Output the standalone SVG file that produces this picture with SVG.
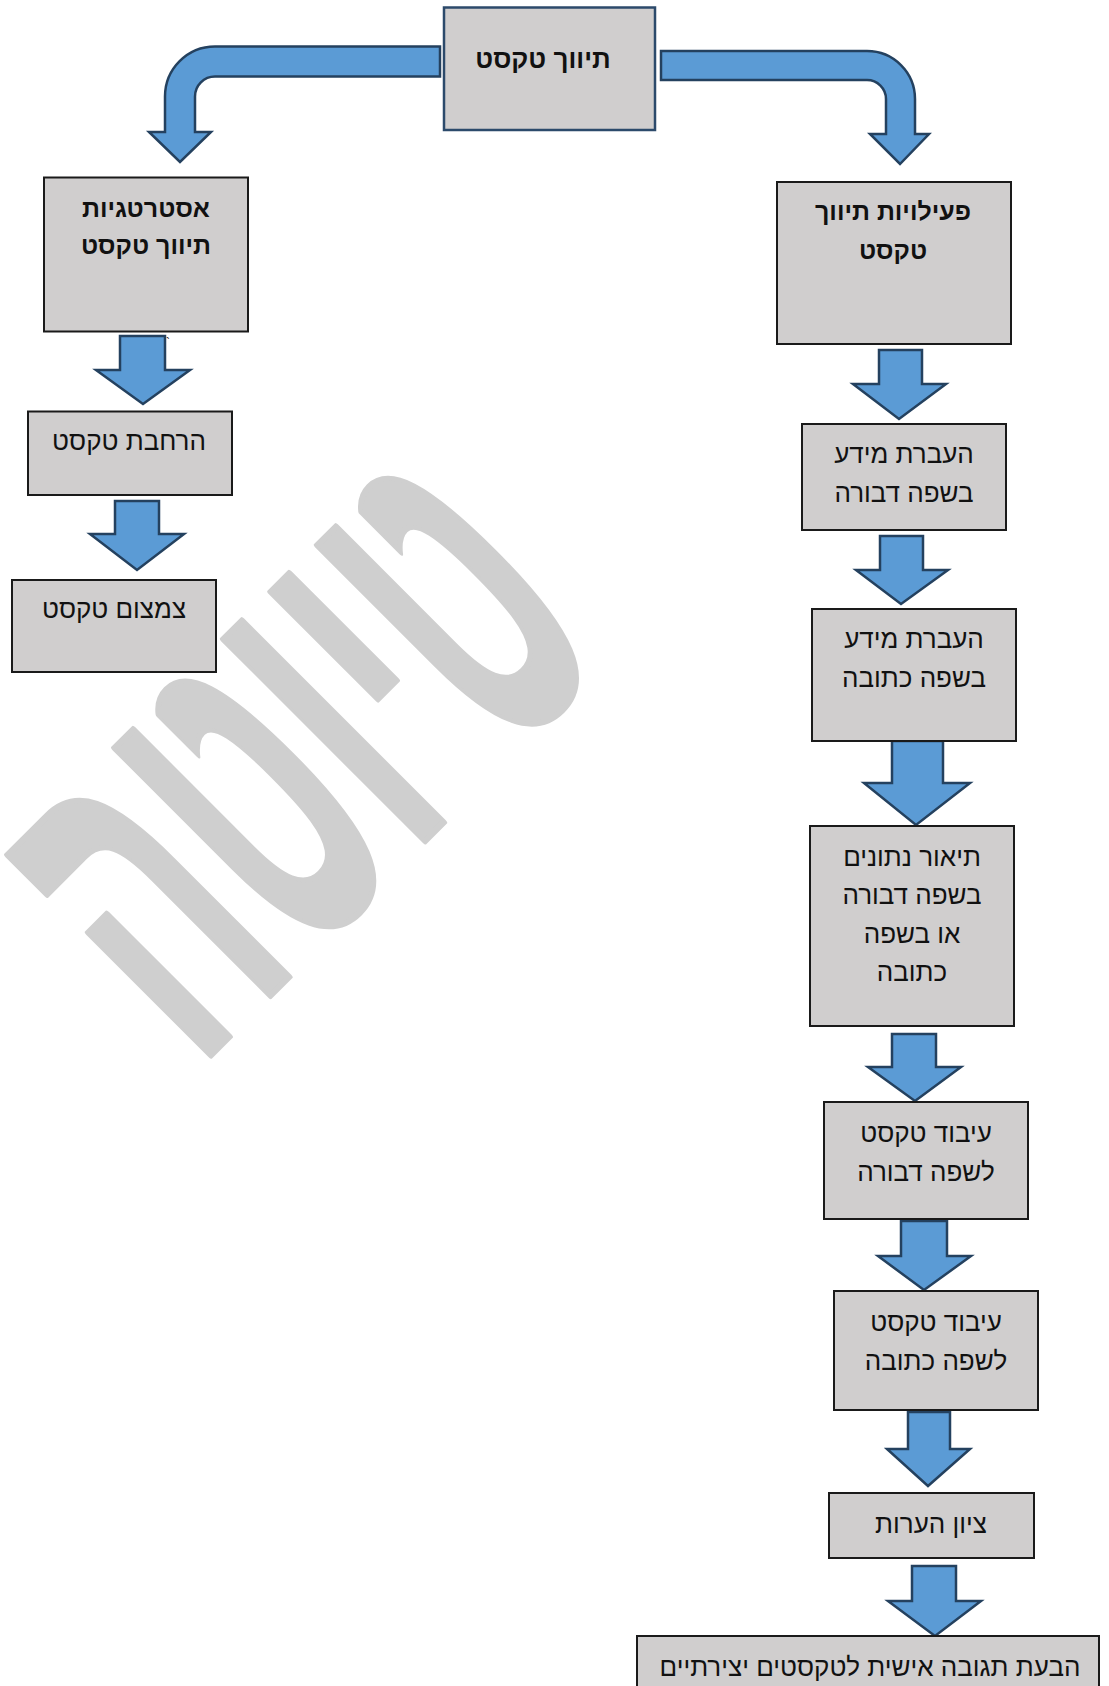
<svg xmlns="http://www.w3.org/2000/svg" width="1109" height="1686" viewBox="0 0 1109 1686">
<style>
.box{fill:#d0cece;stroke:#1a1a1a;stroke-width:2}
.topbox{fill:#d0cece;stroke:#2c4a6b;stroke-width:2.5}
.arr{fill:#5b9bd5;stroke:#24415f;stroke-width:2.5;stroke-linejoin:miter}
.t{font-family:"Liberation Sans","DejaVu Sans",sans-serif;font-size:26px;fill:#111;text-anchor:middle}
.b{font-family:"Liberation Sans","DejaVu Sans",sans-serif;font-size:25px;font-weight:bold;fill:#111;text-anchor:middle}
.wm{font-family:"Liberation Sans","DejaVu Sans",sans-serif;font-size:222px;font-weight:bold;fill:#cfcfcf;stroke:#cfcfcf;stroke-width:3;stroke-linejoin:round;text-anchor:middle}
</style>
<rect width="1109" height="1686" fill="#ffffff"/>
<g id="watermark">
<text class="wm" transform="translate(405,861) rotate(-45) scale(1,2.12)">טיוטה</text>
</g>
<g id="connectors">
<path class="arr" d="M440,46.5 L215,46.5 A50,50 0 0 0 165,96.5 L165,132 L149,132 L180,162 L211,132 L195,132 L195,96.5 A20,20 0 0 1 215,76.5 L440,76.5 Z"/>
<path class="arr" d="M661,51 L867,51 A48,48 0 0 1 915,99 L915,134 L929,134 L900,164 L870,134 L886,134 L886,99 A19,19 0 0 0 867,80 L661,80 Z"/>
<path class="arr" d="M120,336 L165,336 L165,370 L190,370 L143,404 L96,370 L120,370 Z"/>
<path class="arr" d="M115,501 L159,501 L159,534 L184,534 L137,570 L90,534 L115,534 Z"/>
<path class="arr" d="M879,350 L922,350 L922,384 L946,384 L899,419 L853,384 L879,384 Z"/>
<path class="arr" d="M880,536 L923,536 L923,570 L948,570 L901,604 L856,570 L880,570 Z"/>
<path class="arr" d="M892,741 L943,741 L943,783 L970,783 L916,825 L864,783 L892,783 Z"/>
<path class="arr" d="M892,1034 L936,1034 L936,1067 L961,1067 L915,1101 L868,1067 L892,1067 Z"/>
<path class="arr" d="M901,1221 L947,1221 L947,1256 L971,1256 L924,1290 L878,1256 L901,1256 Z"/>
<path class="arr" d="M908,1412 L950,1412 L950,1449 L970,1449 L928,1486 L887,1449 L908,1449 Z"/>
<path class="arr" d="M912,1566 L956,1566 L956,1601 L981,1601 L935,1636 L888,1601 L912,1601 Z"/>
</g>
<g id="n-top">
<rect class="topbox" x="444" y="7.5" width="211" height="122.5"/>
<text class="b" x="543" y="68" style="font-size:26px">תיווך טקסט</text>
</g>
<g id="n-strategies">
<rect class="box" x="44" y="177.5" width="204" height="154"/>
<text class="b" x="146" y="217">אסטרטגיות</text>
<text class="b" x="146" y="254">תיווך טקסט</text>
<text x="166" y="347" font-family="Liberation Sans, sans-serif" font-size="12" fill="#111">`</text>
</g>
<g id="n-expand">
<rect class="box" x="28" y="411.5" width="204" height="83.5"/>
<text class="t" x="129" y="450">הרחבת טקסט</text>
</g>
<g id="n-condense">
<rect class="box" x="12" y="580" width="204" height="92"/>
<text class="t" x="114" y="618">צמצום טקסט</text>
</g>
<g id="n-activities">
<rect class="box" x="777" y="182" width="234" height="162"/>
<text class="b" x="893" y="220">פעילויות תיווך</text>
<text class="b" x="893" y="259">טקסט</text>
</g>
<g id="n-spoken">
<rect class="box" x="802" y="424" width="204" height="106"/>
<text class="t" x="904" y="463">העברת מידע</text>
<text class="t" x="904" y="502">בשפה דבורה</text>
</g>
<g id="n-written">
<rect class="box" x="812" y="609" width="204" height="132"/>
<text class="t" x="914" y="648">העברת מידע</text>
<text class="t" x="914" y="687">בשפה כתובה</text>
</g>
<g id="n-data">
<rect class="box" x="810" y="826" width="204" height="200"/>
<text class="t" x="912" y="866">תיאור נתונים</text>
<text class="t" x="912" y="904">בשפה דבורה</text>
<text class="t" x="912" y="943">או בשפה</text>
<text class="t" x="912" y="981">כתובה</text>
</g>
<g id="n-proc-spoken">
<rect class="box" x="824" y="1102" width="204" height="117"/>
<text class="t" x="926" y="1142">עיבוד טקסט</text>
<text class="t" x="926" y="1181">לשפה דבורה</text>
</g>
<g id="n-proc-written">
<rect class="box" x="834" y="1291" width="204" height="119"/>
<text class="t" x="936" y="1331">עיבוד טקסט</text>
<text class="t" x="936" y="1370">לשפה כתובה</text>
</g>
<g id="n-notes">
<rect class="box" x="829" y="1493" width="205" height="65"/>
<text class="t" x="931" y="1533">ציון הערות</text>
</g>
<g id="n-response">
<rect class="box" x="637" y="1636" width="462" height="60"/>
<text class="t" x="870" y="1676">הבעת תגובה אישית לטקסטים יצירתיים</text>
</g>
</svg>
